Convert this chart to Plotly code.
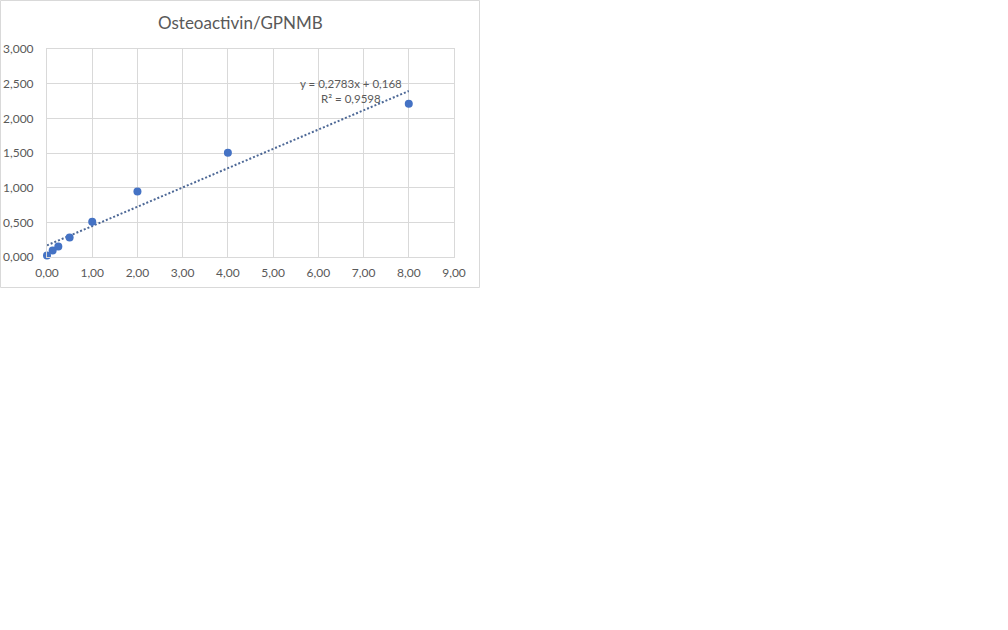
import numpy as np
import plotly.graph_objects as go

# concentration vs absorbance
conc = [0.0, 0.125, 0.25, 0.5, 1.0, 2.0, 4.0, 8.0]
absorb = [0.020, 0.092, 0.150, 0.280, 0.510, 0.945, 1.503, 2.211]

# Excel linear trendline as printed on the chart
SLOPE = 0.2783
INTERCEPT = 0.168
trend_x = [min(conc), max(conc)]
trend_y = [SLOPE * x + INTERCEPT for x in trend_x]

GREY = "#595959"
GRID = "#d9d9d9"
BLUE = "#4472C4"
TREND = "#4d6896"
FONT = "Lato"

W, H = 1008, 630
L, R, T, B = 47, 554, 49, 373
PW, PH = W - L - R, H - T - B


def px2paper(px, py):
    return (px - L) / PW, (H - B - py) / PH


fig = go.Figure()
fig.add_trace(go.Scatter(x=trend_x, y=trend_y, mode="lines",
                         line={"color": TREND, "width": 2, "dash": "2px,2px"},
                         hoverinfo="skip", showlegend=False))
fig.add_trace(go.Scatter(x=conc, y=absorb, mode="markers",
                         marker={"color": BLUE, "size": 8},
                         cliponaxis=False, showlegend=False))

x0, y0 = px2paper(0.5, 287.5)
x1, y1 = px2paper(479.5, 0.5)
fig.add_shape(type="rect", xref="paper", yref="paper",
              x0=x0, y0=y0, x1=x1, y1=y1,
              line={"color": GRID, "width": 1}, layer="below")

tx, ty = px2paper(240, 22)
fig.add_annotation(xref="paper", yref="paper", x=tx, y=ty,
                   xanchor="center", yanchor="middle",
                   text="Osteoactivin/GPNMB", showarrow=False,
                   font={"size": 17, "color": GREY, "family": FONT})

fig.add_annotation(x=6.73, y=2.40, xanchor="center", yanchor="middle",
                   text="y = 0,2783x + 0,168<br>R² = 0,9598", align="center",
                   showarrow=False, font={"size": 11.5, "color": GREY, "family": FONT})

fig.update_layout(
    width=W, height=H,
    margin={"l": L, "r": R, "t": T, "b": B, "pad": 0, "autoexpand": False},
    paper_bgcolor="white", plot_bgcolor="white",
    separators=",.",
    font={"family": FONT, "size": 12, "color": GREY},
    xaxis={"range": [0, 9], "dtick": 1, "tickformat": ".2f",
           "showgrid": True, "gridcolor": GRID, "zeroline": False,
           "showline": True, "linecolor": GRID, "mirror": True,
           "ticks": "", "ticklabelstandoff": 5, "automargin": False,
           "fixedrange": True},
    yaxis={"range": [0, 3], "dtick": 0.5, "tickformat": ".3f",
           "showgrid": True, "gridcolor": GRID, "zeroline": False,
           "showline": True, "linecolor": GRID, "mirror": True,
           "ticks": "", "ticklabelstandoff": 10, "automargin": False,
           "fixedrange": True},
)

# drop the browser's default 8px body margin so the chart sits at the corner
fig.write_html("out.html", config={"displayModeBar": False},
               post_script="document.body.style.margin='0';")
